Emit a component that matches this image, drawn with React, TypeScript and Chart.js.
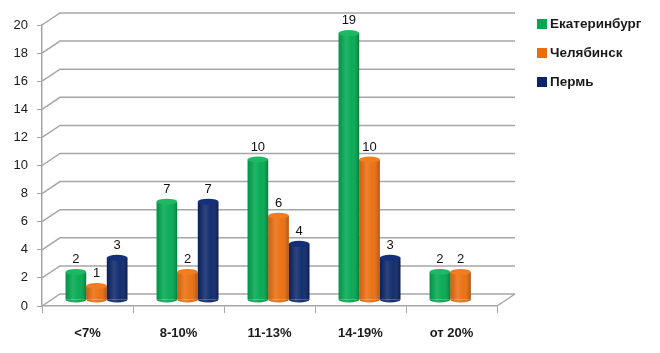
import { useEffect, useRef } from "react";
import { Chart, registerables } from "chart.js";
Chart.register(...registerables);

const categories = ["<7%", "8-10%", "11-13%", "14-19%", "от 20%"];
const seriesNames = ["Екатеринбург", "Челябинск", "Пермь"];
const ekaterinburg = [2, 7, 10, 19, 2];
const chelyabinsk = [1, 2, 6, 10, 2];
const perm: (number | null)[] = [3, 7, 4, 3, null];
const seriesColors = ["#00a84f", "#ea6d0c", "#0b2569"];
const topColors = ["#1cb862", "#f27d1e", "#15307a"];
const yMin = 0;
const yMax = 20;
const yStep = 2;

const DX = 18;
const DY = -12;
const GRID = "#a6a6a6";
const FONT = "'Liberation Sans', Arial, sans-serif";

const depthPlugin = {
  id: "depth",
  beforeDatasetsDraw(chart: any) {
    const { ctx, chartArea, scales } = chart;
    const y = scales.y;
    ctx.save();
    ctx.strokeStyle = GRID;
    ctx.lineWidth = 1.5;
    y.ticks.forEach((t: any) => {
      const py = y.getPixelForValue(t.value);
      ctx.beginPath();
      ctx.moveTo(chartArea.left, py);
      ctx.lineTo(chartArea.left + DX, py + DY);
      ctx.lineTo(chartArea.right + DX, py + DY);
      ctx.stroke();
    });
    const p0 = y.getPixelForValue(0);
    ctx.beginPath();
    ctx.moveTo(chartArea.right, p0);
    ctx.lineTo(chartArea.right + DX, p0 + DY);
    ctx.stroke();
    ctx.restore();
    ctx.save();
    ctx.translate(DX / 2, DY / 2);
  },
  afterDatasetsDraw(chart: any) {
    const { ctx } = chart;
    const ry = 3;
    chart.data.datasets.forEach((ds: any, di: number) => {
      const meta = chart.getDatasetMeta(di);
      meta.data.forEach((el: any, i: number) => {
        const v = ds.data[i];
        if (v === null || v === undefined) return;
        const { x, y, base, width } = el.getProps(["x", "y", "base", "width"], true);
        const l = x - width / 2;
        const rx = width / 2;
        ctx.fillStyle = seriesColors[di];
        ctx.beginPath();
        ctx.ellipse(x, base, rx, ry, 0, 0, Math.PI);
        ctx.fill();
        const g = ctx.createLinearGradient(l, 0, l + width, 0);
        g.addColorStop(0, "rgba(0,0,0,0.12)");
        g.addColorStop(0.35, "rgba(255,255,255,0.14)");
        g.addColorStop(0.65, "rgba(255,255,255,0.04)");
        g.addColorStop(1, "rgba(0,0,0,0.25)");
        ctx.fillStyle = g;
        ctx.beginPath();
        ctx.moveTo(l, y);
        ctx.lineTo(l, base);
        ctx.ellipse(x, base, rx, ry, 0, Math.PI, 0, true);
        ctx.lineTo(l + width, y);
        ctx.closePath();
        ctx.fill();
        ctx.fillStyle = topColors[di];
        ctx.beginPath();
        ctx.ellipse(x, y, rx, ry, 0, 0, Math.PI * 2);
        ctx.fill();
        ctx.fillStyle = "#111";
        ctx.font = `13px ${FONT}`;
        ctx.textAlign = "center";
        ctx.textBaseline = "bottom";
        ctx.fillText(String(v), x, y - ry - 3);
      });
    });
    ctx.restore();
  },
  afterDraw(chart: any) {
    const { ctx } = chart;
    ctx.save();
    ctx.font = `bold 13.5px ${FONT}`;
    ctx.textBaseline = "middle";
    ctx.textAlign = "left";
    chart.data.datasets.forEach((ds: any, i: number) => {
      const cy = 24 + i * 29;
      ctx.fillStyle = seriesColors[i];
      ctx.fillRect(537, cy - 5, 10, 10);
      ctx.fillStyle = "#1a1a1a";
      ctx.fillText(ds.label, 550, cy);
    });
    ctx.restore();
  },
};

export default function App() {
  const ref = useRef<HTMLCanvasElement>(null);
  useEffect(() => {
    document.body.style.margin = "0";
    const chart = new Chart(ref.current!, {
      type: "bar",
      data: {
        labels: categories,
        datasets: [
          { label: seriesNames[0], data: ekaterinburg, backgroundColor: seriesColors[0] },
          { label: seriesNames[1], data: chelyabinsk, backgroundColor: seriesColors[1] },
          { label: seriesNames[2], data: perm, backgroundColor: seriesColors[2] },
        ].map((d) => ({ ...d, categoryPercentage: 0.68, barPercentage: 1, clip: false as any })),
      },
      options: {
        animation: false,
        responsive: false,
        layout: { padding: { top: 25, right: 163, left: 0, bottom: 0 } },
        plugins: { legend: { display: false }, tooltip: { enabled: false } },
        scales: {
          x: {
            afterFit: (s: any) => { s.height = 47; },
            grid: { drawOnChartArea: false, tickLength: 7, color: GRID, offset: true },
            border: { color: GRID, width: 1.5 },
            ticks: { padding: 13, color: "#1a1a1a", font: { family: FONT, size: 13, weight: "bold" } },
          },
          y: {
            min: yMin,
            max: yMax,
            afterFit: (s: any) => { s.width = 42; },
            grid: { drawOnChartArea: false, tickLength: 5, color: GRID },
            border: { color: GRID, width: 1.5 },
            ticks: { stepSize: yStep, padding: 9, color: "#1a1a1a", font: { family: FONT, size: 13 } },
          },
        },
      },
      plugins: [depthPlugin],
    });
    return () => chart.destroy();
  }, []);
  return (
    <div style={{ width: 660, height: 353, background: "#fff" }}>
      <canvas ref={ref} width={660} height={353} />
    </div>
  );
}
